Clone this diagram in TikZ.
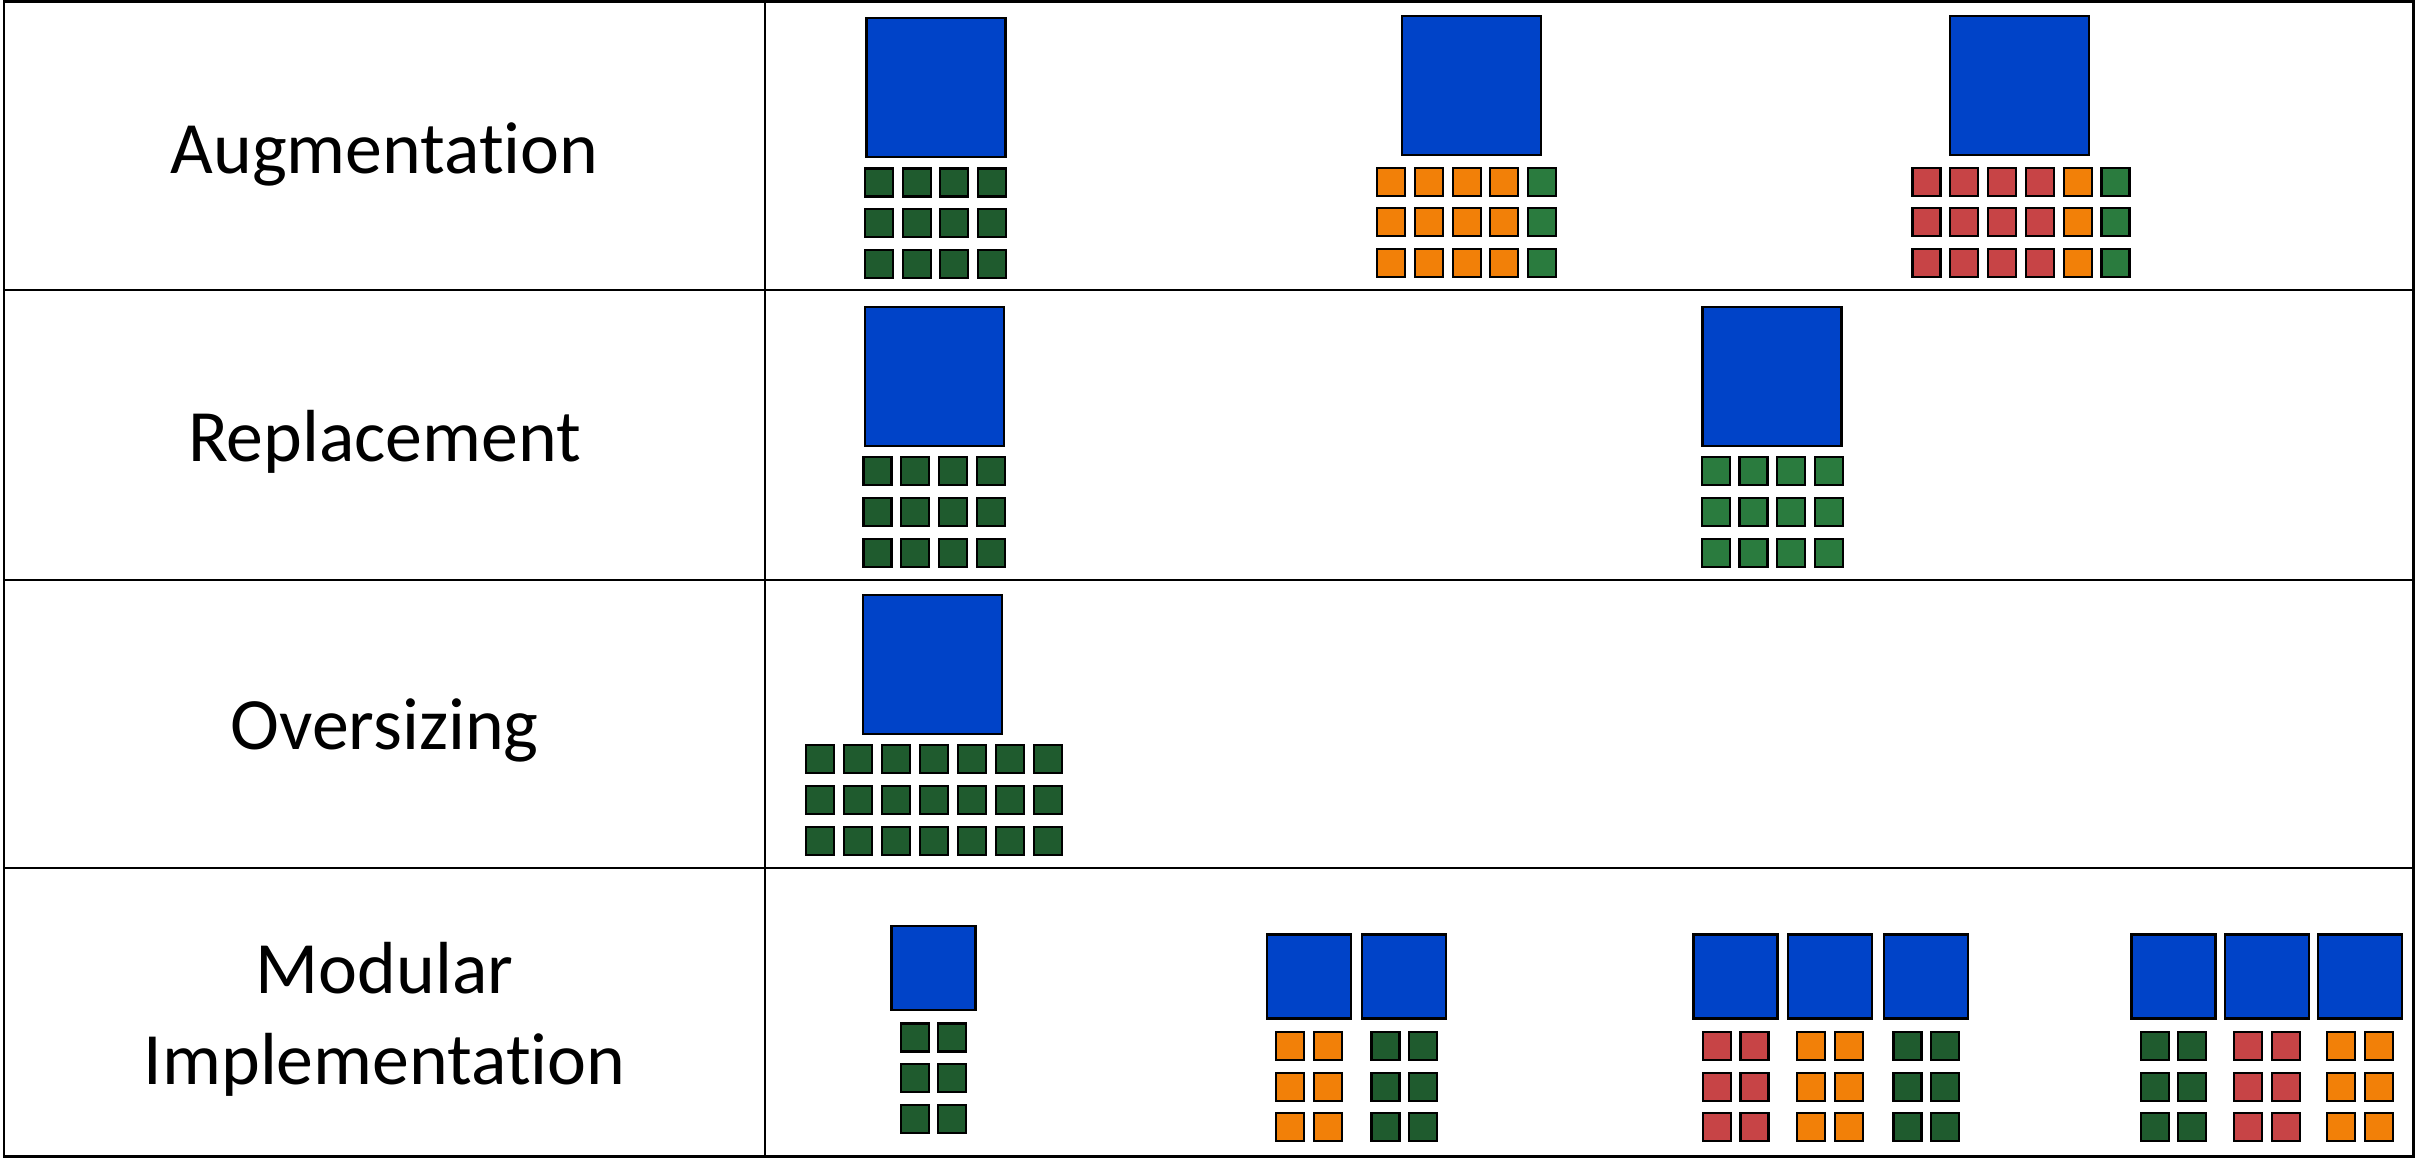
\documentclass[tikz,border=0pt]{standalone}
\usepackage{fontspec}
\setmainfont{Carlito}[Ligatures={NoCommon,NoRare,NoContextual}]
\usepackage{tikz}

\definecolor{sqblue}{RGB}{0,67,200}
\definecolor{darkgreen}{RGB}{31,91,46}
\definecolor{midgreen}{RGB}{42,123,62}
\definecolor{sqorange}{RGB}{242,128,8}
\definecolor{sqred}{RGB}{199,68,70}

\begin{document}
\begin{tikzpicture}[
        tableline/.style={line width=0.85pt},
        rowname/.style={anchor=base, font=\fontsize{21}{25.8}\selectfont},
        bigbox/.style={draw, line width=0.7pt, fill=sqblue, minimum size=1.39cm, inner sep=0pt},
        modbox/.style={draw, line width=0.7pt, fill=sqblue, minimum size=0.84cm, inner sep=0pt},
        cell/.style={draw, line width=0.6pt, minimum size=0.28cm, inner sep=0pt}
      ]
      \useasboundingbox (0,0) rectangle (24.15,-11.58);

      % table
      \draw[tableline] (0.04,-0.02) rectangle (24.13,-11.565);
      \draw[tableline] (0.04,-2.9) -- (24.13,-2.9);
      \draw[tableline] (0.04,-5.8) -- (24.13,-5.8);
      \draw[tableline] (0.04,-8.68) -- (24.13,-8.68);
      \draw[tableline] (7.65,-0.02) -- (7.65,-11.565);

      \node[rowname] (augm) at (3.845,-1.735) {Augmentation};
      \node[rowname] (repl) at (3.845,-4.616) {Replacement};
      \node[rowname] (overs) at (3.845,-7.496) {Oversizing};
      \node[rowname] (modu) at (3.845,-9.933) {Modular};
      \node[rowname] (impl) at (3.845,-10.84) {Implementation};

      % augmentation
      \node[bigbox] (aug1) at (9.362,-0.877) {};
      \foreach \r in {0,1,2}
        \foreach \c in {0,...,3}
          \node[cell, fill=darkgreen] (aug1-\r-\c) at ({8.79+0.377*\c},{-1.825-0.407*\r}) {};

      \node[bigbox] (aug2) at (14.714,-0.854) {};
      \foreach \r in {0,1,2}
        \foreach \c/\col in {0/sqorange,1/sqorange,2/sqorange,3/sqorange,4/midgreen}
          \node[cell, fill=\col] (aug2-\r-\c) at ({13.913+0.377*\c},{-1.817-0.407*\r}) {};

      \node[bigbox] (aug3) at (20.197,-0.854) {};
      \foreach \r in {0,1,2}
        \foreach \c/\col in {0/sqred,1/sqred,2/sqred,3/sqred,4/sqorange,5/midgreen}
          \node[cell, fill=\col] (aug3-\r-\c) at ({19.265+0.378*\c},{-1.817-0.407*\r}) {};

      % replacement
      \node[bigbox] (rep1) at (9.343,-3.767) {};
      \foreach \r in {0,1,2}
        \foreach \c in {0,...,3}
          \node[cell, fill=darkgreen] (rep1-\r-\c) at ({8.775+0.377*\c},{-4.713-0.407*\r}) {};

      \node[bigbox] (rep2) at (17.719,-3.767) {};
      \foreach \r in {0,1,2}
        \foreach \c in {0,...,3}
          \node[cell, fill=midgreen] (rep2-\r-\c) at ({17.158+0.377*\c},{-4.713-0.407*\r}) {};

      % oversizing
      \node[bigbox] (ovs1) at (9.327,-6.647) {};
      \foreach \r in {0,1,2}
        \foreach \c in {0,...,6}
          \node[cell, fill=darkgreen] (ovs1-\r-\c) at ({8.203+0.379*\c},{-7.594-0.407*\r}) {};

      % modular implementation
      \foreach \m/\x/\y/\col in {mod1/9.335/-9.682/darkgreen,
                                 mod2a/13.091/-9.767/sqorange, mod2b/14.042/-9.767/darkgreen,
                                 mod3a/17.357/-9.767/sqred, mod3b/18.298/-9.767/sqorange, mod3c/19.262/-9.767/darkgreen,
                                 mod4a/21.734/-9.767/darkgreen, mod4b/22.668/-9.767/sqred, mod4c/23.600/-9.767/sqorange} {
        \node[modbox] (\m) at (\x,\y) {};
        \foreach \r in {0,1,2}
          \foreach \c in {0,1}
            \node[cell, fill=\col] (\m-\r-\c) at ({\x-0.1875+0.375*\c},{\y-0.693-0.407*\r}) {};
      }
    \end{tikzpicture}
\end{document}
